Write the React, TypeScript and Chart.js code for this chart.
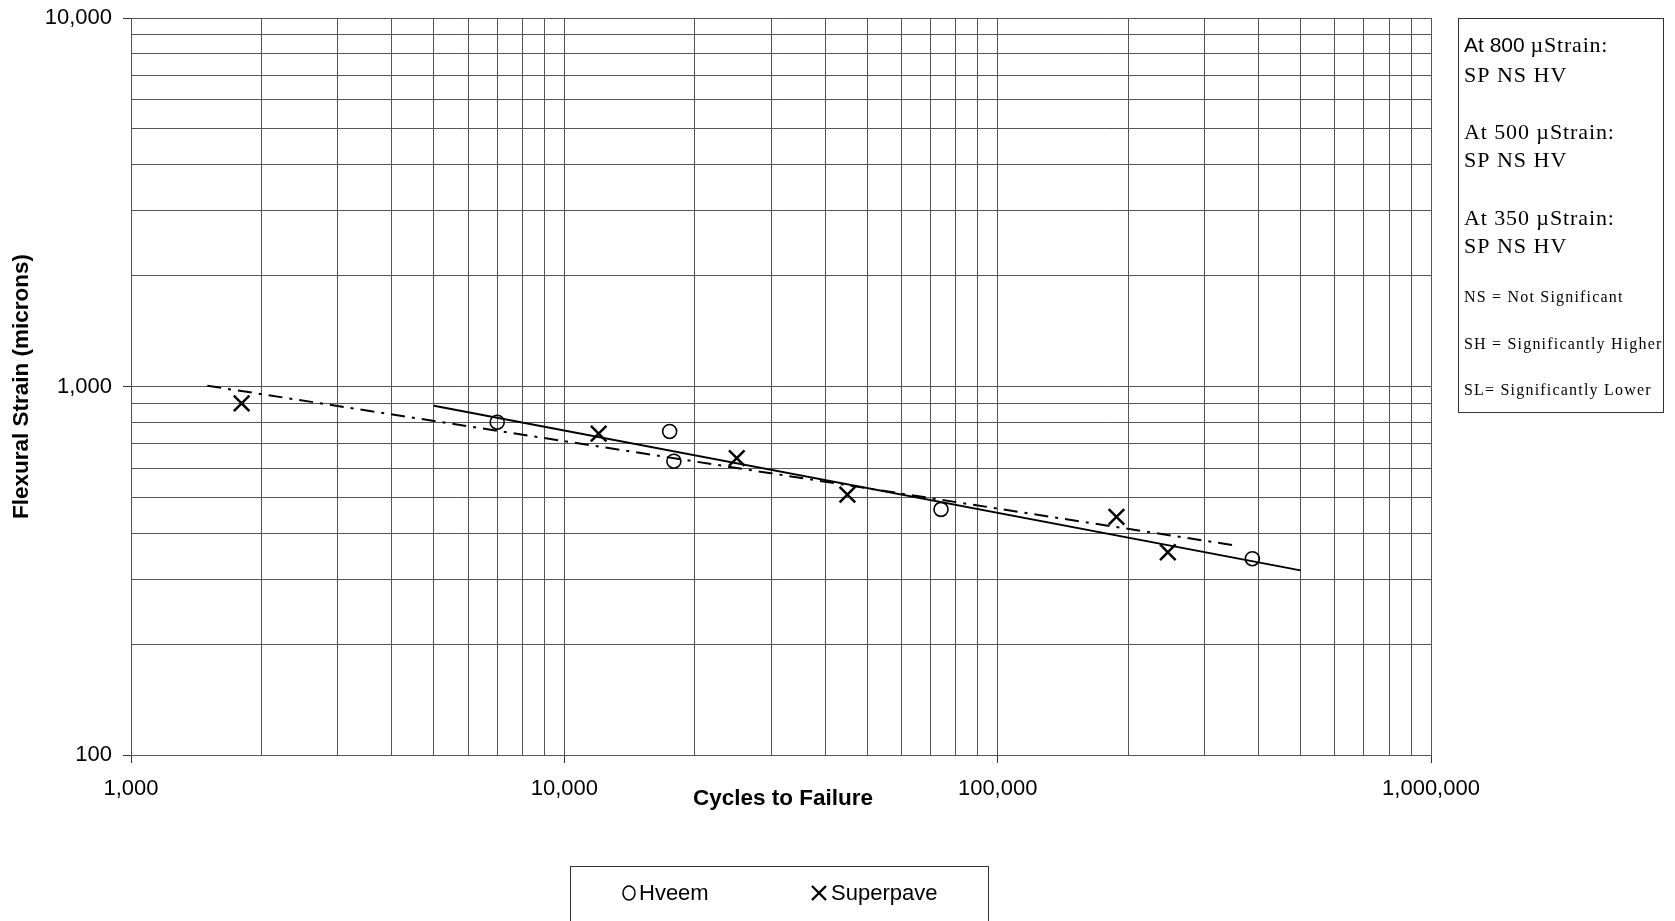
import React, { useEffect, useRef } from "react";
import { Chart, registerables } from "chart.js";

Chart.register(...registerables);

// ---- data ----
const hveemCycles = [7000, 17500, 17900, 74000, 387000];
const hveemStrain = [800, 755, 627, 464, 341];
const superpaveCycles = [1800, 12000, 25000, 45000, 188000, 247000];
const superpaveStrain = [900, 745, 639, 509, 443, 355];
const hveemTrendCycles = [5000, 500000];
const hveemTrendStrain = [887, 317];
const superpaveTrendCycles = [1500, 350000];
const superpaveTrendStrain = [1005, 371];

const xMajorTicks = [1000, 10000, 100000, 1000000];
const yMajorTicks = [100, 1000, 10000];
const minorMultipliers = [1, 2, 3, 4, 5, 6, 7, 8, 9];

const seriesLabels = ["Hveem", "Superpave"];
const xTitle = "Cycles to Failure";
const yTitle = "Flexural Strain (microns)";
const noteStrainLevels = ["800", "500", "350"];
const noteResult = "SP NS HV";
const noteKey = ["NS = Not Significant", "SH = Significantly Higher", "SL= Significantly Lower"];

function expandTicks(majors: number[]) {
  const out: number[] = [];
  majors.forEach((m, i) => {
    if (i === majors.length - 1) out.push(m);
    else minorMultipliers.forEach((k) => out.push(m * k));
  });
  return out;
}

const toXY = (xs: number[], ys: number[]) => xs.map((x, i) => ({ x, y: ys[i] }));

const SANS = "'Liberation Sans', Arial, sans-serif";
const SERIF = "'Liberation Serif', 'Times New Roman', serif";

const isMajor = (v: number, majors: number[]) => majors.includes(v);

const decorPlugin = {
  id: "decor",
  afterDraw(chart: any) {
    const ctx = chart.ctx as CanvasRenderingContext2D;
    const ca = chart.chartArea;
    ctx.save();
    ctx.fillStyle = "#000";
    // axis titles
    ctx.font = `bold 22.5px ${SANS}`;
    ctx.textAlign = "center";
    ctx.textBaseline = "middle";
    ctx.fillText(xTitle, (ca.left + ca.right) / 2 + 2, 799);
    ctx.save();
    ctx.translate(22, (ca.top + ca.bottom) / 2);
    ctx.rotate(-Math.PI / 2);
    ctx.fillText(yTitle, 0, 0);
    ctx.restore();

    // right note box
    ctx.strokeStyle = "#333";
    ctx.lineWidth = 1;
    ctx.strokeRect(1458.5, 18.5, 205, 394);
    ctx.textAlign = "left";
    ctx.textBaseline = "middle";
    const lx = 1464;
    const pairY = [[46, 76], [133, 161], [219, 247]];
    noteStrainLevels.forEach((lvl, i) => {
      const [y1, y2] = pairY[i];
      let x = lx;
      (ctx as any).letterSpacing = "0px";
      if (i === 0) {
        ctx.font = `21px ${SANS}`;
        const s = `At ${lvl} `;
        ctx.fillText(s, x, y1);
        x += ctx.measureText(s).width;
        ctx.font = `22px ${SERIF}`;
        (ctx as any).letterSpacing = "0.8px";
        ctx.fillText("\u00B5Strain:", x, y1);
      } else {
        ctx.font = `22px ${SERIF}`;
        (ctx as any).letterSpacing = "0.9px";
        ctx.fillText(`At ${lvl} \u00B5Strain:`, x, y1);
      }
      ctx.font = `22px ${SERIF}`;
      (ctx as any).letterSpacing = "1px";
      ctx.fillText(noteResult, lx, y2);
    });
    ctx.font = `16px ${SERIF}`;
    (ctx as any).letterSpacing = "1.2px";
    const keyY = [298, 345, 391];
    noteKey.forEach((t, i) => ctx.fillText(t, lx, keyY[i]));
    (ctx as any).letterSpacing = "0px";

    // legend box
    ctx.strokeStyle = "#333";
    ctx.lineWidth = 1;
    ctx.strokeRect(570.5, 866.5, 418, 70);
    const ly = 893;
    ctx.lineWidth = 1.5;
    ctx.strokeStyle = "#000";
    ctx.beginPath();
    ctx.ellipse(629, ly, 6, 7, 0, 0, Math.PI * 2);
    ctx.stroke();
    ctx.lineWidth = 2.4;
    ctx.beginPath();
    ctx.moveTo(812, ly - 7);
    ctx.lineTo(826, ly + 7);
    ctx.moveTo(826, ly - 7);
    ctx.lineTo(812, ly + 7);
    ctx.stroke();
    ctx.font = `22px ${SANS}`;
    ctx.fillText(seriesLabels[0], 639, ly + 1);
    ctx.fillText(seriesLabels[1], 831, ly + 1);
    ctx.restore();
  },
};

export default function App() {
  const ref = useRef<HTMLCanvasElement | null>(null);
  useEffect(() => {
    if (!ref.current) return;
    const xTicks = expandTicks(xMajorTicks);
    const yTicks = expandTicks(yMajorTicks);
    const chart = new Chart(ref.current, {
      type: "scatter",
      data: {
        datasets: [
          {
            label: seriesLabels[0],
            data: toXY(hveemCycles, hveemStrain),
            pointStyle: "circle",
            pointRadius: 7,
            pointBorderWidth: 1.6,
            borderColor: "#000",
            backgroundColor: "rgba(0,0,0,0)",
            showLine: false,
          },
          {
            label: seriesLabels[1],
            data: toXY(superpaveCycles, superpaveStrain),
            pointStyle: "crossRot",
            pointRadius: 11,
            pointBorderWidth: 2.5,
            borderColor: "#000",
            backgroundColor: "#000",
            showLine: false,
          },
          {
            label: "Hveem trend",
            data: toXY(hveemTrendCycles, hveemTrendStrain),
            showLine: true,
            pointRadius: 0,
            borderColor: "#000",
            borderWidth: 2,
          },
          {
            label: "Superpave trend",
            data: toXY(superpaveTrendCycles, superpaveTrendStrain),
            showLine: true,
            pointRadius: 0,
            borderColor: "#000",
            borderWidth: 2,
            borderDash: [14, 7, 3, 7],
          },
        ],
      },
      options: {
        animation: false,
        responsive: false,
        devicePixelRatio: 1,
        layout: { padding: { top: 18, right: 244, left: 0, bottom: 0 } },
        plugins: { legend: { display: false }, tooltip: { enabled: false } },
        scales: {
          x: {
            type: "logarithmic",
            min: 1000,
            max: 1000000,
            afterBuildTicks: (s: any) => {
              s.ticks = xTicks.map((v) => ({ value: v }));
            },
            afterFit: (s: any) => {
              s.height = 166;
              s.paddingLeft = 0;
              s.paddingRight = 0;
            },
            ticks: {
              autoSkip: false,
              maxRotation: 0,
              padding: 13,
              color: "#000",
              font: { family: SANS, size: 22 },
              callback: (v: any) => (isMajor(Number(v), xMajorTicks) ? Number(v).toLocaleString("en-US") : ""),
            },
            grid: {
              color: "#555",
              lineWidth: 1,
              tickLength: 8,
              tickColor: (c: any) => (c.tick && isMajor(c.tick.value, xMajorTicks) ? "#333" : "rgba(0,0,0,0)"),
            },
            border: { display: true, color: "#555" },
          },
          y: {
            type: "logarithmic",
            min: 100,
            max: 10000,
            afterBuildTicks: (s: any) => {
              s.ticks = yTicks.map((v) => ({ value: v }));
            },
            afterFit: (s: any) => {
              s.width = 131;
              s.paddingTop = 0;
              s.paddingBottom = 0;
            },
            ticks: {
              autoSkip: false,
              padding: 11,
              color: "#000",
              font: { family: SANS, size: 22 },
              callback: (v: any) => (isMajor(Number(v), yMajorTicks) ? Number(v).toLocaleString("en-US") : ""),
            },
            grid: {
              color: "#555",
              lineWidth: 1,
              tickLength: 8,
              tickColor: (c: any) => (c.tick && isMajor(c.tick.value, yMajorTicks) ? "#333" : "rgba(0,0,0,0)"),
            },
            border: { display: true, color: "#555" },
          },
        },
      },
      plugins: [decorPlugin],
    } as any);
    return () => chart.destroy();
  }, []);
  return (
    <div style={{ position: "fixed", left: 0, top: 0, width: 1675, height: 921, background: "#fff" }}>
      <canvas ref={ref} width={1675} height={921} style={{ display: "block" }} />
    </div>
  );
}
